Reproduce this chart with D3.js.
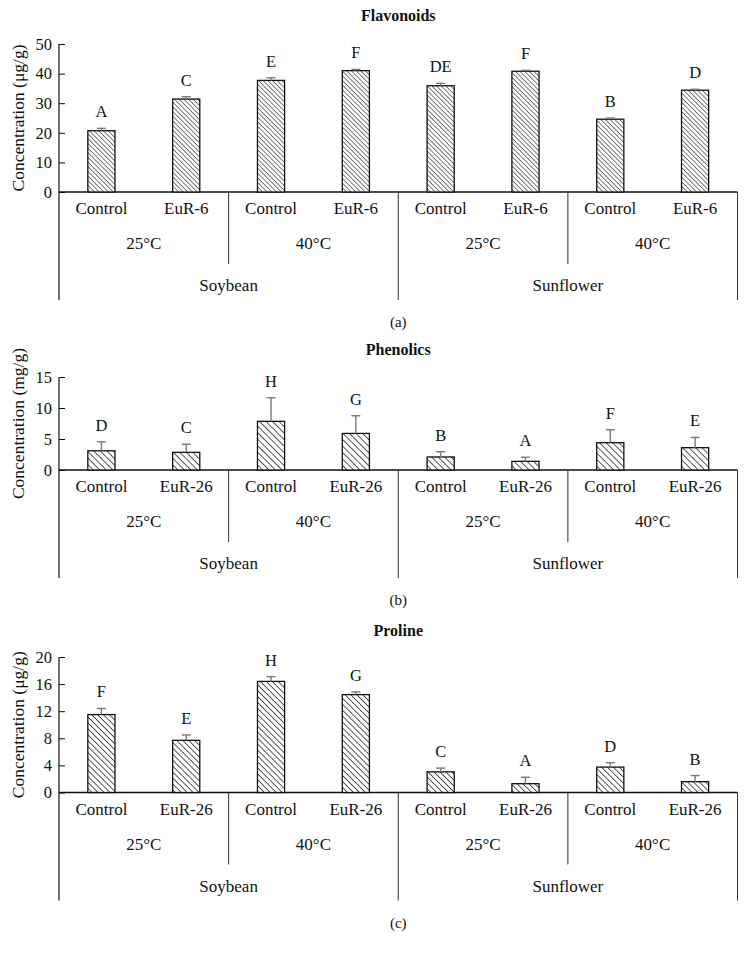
<!DOCTYPE html>
<html>
<head>
<meta charset="utf-8">
<script src="https://cdn.jsdelivr.net/npm/d3@7"></script>
<style>
  html, body { margin: 0; padding: 0; background: #fff; }
  svg { display: block; }
  text { font-family: "Liberation Serif", "DejaVu Serif", serif; fill: #111; }
</style>
</head>
<body>
<svg id="chart" width="748" height="957"></svg>
<script>
// ---------- data ----------
const crops = ["Soybean", "Sunflower"];
const temps = ["25°C", "40°C"];
const treatmentsA = ["Control", "EuR-6"];
const treatmentsBC = ["Control", "EuR-26"];

const flavonoidValues = [20.7, 31.4, 37.7, 41.0, 35.9, 40.8, 24.6, 34.4];
const flavonoidErrors = [0.8, 0.8, 0.9, 0.4, 0.8, 0.3, 0.4, 0.3];
const flavonoidLetters = ["A", "C", "E", "F", "DE", "F", "B", "D"];
const flavonoidTicks = [0, 10, 20, 30, 40, 50];

const phenolicValues = [3.1, 2.85, 7.85, 5.9, 2.1, 1.4, 4.4, 3.6];
const phenolicErrors = [1.45, 1.3, 3.8, 2.85, 0.85, 0.65, 2.1, 1.65];
const phenolicLetters = ["D", "C", "H", "G", "B", "A", "F", "E"];
const phenolicTicks = [0, 5, 10, 15];

const prolineValues = [11.5, 7.7, 16.4, 14.45, 3.05, 1.3, 3.75, 1.6];
const prolineErrors = [0.9, 0.8, 0.7, 0.4, 0.55, 0.95, 0.65, 0.9];
const prolineLetters = ["F", "E", "H", "G", "C", "A", "D", "B"];
const prolineTicks = [0, 4, 8, 12, 16, 20];

// ---------- layout ----------
const svg = d3.select("#chart");
const X0 = 59, X1 = 737.5;

const panels = [
  { title: "Flavonoids", tag: "(a)", yLabel: "Concentration (μg/g)", values: flavonoidValues, errors: flavonoidErrors,
    letters: flavonoidLetters, ticks: flavonoidTicks, treatments: treatmentsA,
    yTop: 44, yBase: 192, titleY: 21, hatch: 3.3, hatchW: 1.1 },
  { title: "Phenolics", tag: "(b)", yLabel: "Concentration (mg/g)", values: phenolicValues, errors: phenolicErrors,
    letters: phenolicLetters, ticks: phenolicTicks, treatments: treatmentsBC,
    yTop: 377, yBase: 470, titleY: 355, hatch: 4.6, hatchW: 1.4 },
  { title: "Proline", tag: "(c)", yLabel: "Concentration (μg/g)", values: prolineValues, errors: prolineErrors,
    letters: prolineLetters, ticks: prolineTicks, treatments: treatmentsBC,
    yTop: 657, yBase: 792.5, titleY: 636, hatch: 4.2, hatchW: 1.4 }
];

const defs = svg.append("defs");

panels.forEach((p, pi) => {
  const cats = [];
  crops.forEach(c => temps.forEach(t => p.treatments.forEach(tr => cats.push(c + "|" + t + "|" + tr))));

  const x = d3.scaleBand().domain(cats).range([X0, X1]).paddingInner(0.68).paddingOuter(0.34);
  const xOuter = d3.scaleBand().domain(cats).range([X0, X1]);
  const y = d3.scaleLinear().domain([0, d3.max(p.ticks)]).range([p.yBase, p.yTop]);

  const g = svg.append("g");

  const pid = "hatch" + pi;
  const pat = defs.append("pattern").attr("id", pid).attr("patternUnits", "userSpaceOnUse")
    .attr("width", p.hatch).attr("height", p.hatch).attr("patternTransform", "rotate(-45)");
  pat.append("rect").attr("width", p.hatch).attr("height", p.hatch).attr("fill", "#fff");
  pat.append("line").attr("x1", 0).attr("y1", -1).attr("x2", 0).attr("y2", p.hatch + 1)
    .attr("stroke", "#111").attr("stroke-width", p.hatchW);

  g.append("text").attr("x", (X0 + X1) / 2).attr("y", p.titleY).attr("text-anchor", "middle")
    .attr("font-weight", "bold").attr("font-size", 16).text(p.title);

  const yAxis = d3.axisLeft(y).tickValues(p.ticks).tickSizeInner(-6).tickSizeOuter(0).tickPadding(7);
  const ya = g.append("g").attr("transform", `translate(${X0},0)`).call(yAxis);
  ya.select(".domain").remove();
  ya.selectAll(".tick line").attr("stroke", "#111").attr("stroke-width", 1);
  ya.selectAll(".tick text").attr("font-size", 16.5).attr("font-family", "Liberation Serif, serif").attr("fill", "#111");

  const outerEnd = p.yBase + 108;
  const tempEnd = p.yBase + 72;

  g.append("line").attr("x1", X0).attr("x2", X0).attr("y1", p.yTop).attr("y2", outerEnd)
    .attr("stroke", "#111").attr("stroke-width", 1.2);
  g.append("line").attr("x1", X0).attr("x2", X1).attr("y1", p.yBase).attr("y2", p.yBase)
    .attr("stroke", "#111").attr("stroke-width", 1.4);
  g.append("line").attr("x1", X1).attr("x2", X1).attr("y1", p.yBase).attr("y2", outerEnd)
    .attr("stroke", "#333").attr("stroke-width", 1);

  const bw = xOuter.step();
  [2, 6].forEach(i => {
    const sx = xOuter(cats[i]);
    g.append("line").attr("x1", sx).attr("x2", sx).attr("y1", p.yBase).attr("y2", tempEnd)
      .attr("stroke", "#333").attr("stroke-width", 1);
  });
  const cx = xOuter(cats[4]);
  g.append("line").attr("x1", cx).attr("x2", cx).attr("y1", p.yBase).attr("y2", outerEnd)
    .attr("stroke", "#333").attr("stroke-width", 1);

  g.selectAll("rect.bar").data(p.values).join("rect").attr("class", "bar")
    .attr("x", (d, i) => x(cats[i])).attr("width", x.bandwidth())
    .attr("y", d => y(d)).attr("height", d => y(0) - y(d))
    .attr("fill", `url(#${pid})`).attr("stroke", "#111").attr("stroke-width", 1.3);

  const eb = g.selectAll("g.err").data(p.values).join("g").attr("class", "err");
  eb.append("line")
    .attr("x1", (d, i) => x(cats[i]) + x.bandwidth() / 2).attr("x2", (d, i) => x(cats[i]) + x.bandwidth() / 2)
    .attr("y1", d => y(d)).attr("y2", (d, i) => y(d + p.errors[i]))
    .attr("stroke", "#7a7a7a").attr("stroke-width", 1.4);
  eb.append("line")
    .attr("x1", (d, i) => x(cats[i]) + x.bandwidth() / 2 - 4.5).attr("x2", (d, i) => x(cats[i]) + x.bandwidth() / 2 + 4.5)
    .attr("y1", (d, i) => y(d + p.errors[i])).attr("y2", (d, i) => y(d + p.errors[i]))
    .attr("stroke", "#7a7a7a").attr("stroke-width", 1.4);

  g.selectAll("text.letter").data(p.letters).join("text").attr("class", "letter")
    .attr("x", (d, i) => x(cats[i]) + x.bandwidth() / 2)
    .attr("y", (d, i) => y(p.values[i] + p.errors[i]) - 11)
    .attr("text-anchor", "middle").attr("font-size", 16.5).text(d => d);

  g.selectAll("text.trt").data(cats).join("text").attr("class", "trt")
    .attr("x", d => x(d) + x.bandwidth() / 2).attr("y", p.yBase + 22)
    .attr("text-anchor", "middle").attr("font-size", 17).text(d => d.split("|")[2]);

  crops.forEach((c, ci) => temps.forEach((t, ti) => {
    const i0 = ci * 4 + ti * 2;
    const mx = xOuter(cats[i0]) + bw;
    g.append("text").attr("x", mx).attr("y", p.yBase + 57).attr("text-anchor", "middle")
      .attr("font-size", 17).text(t);
  }));

  crops.forEach((c, ci) => {
    const mx = xOuter(cats[ci * 4]) + bw * 2;
    g.append("text").attr("x", mx).attr("y", p.yBase + 99).attr("text-anchor", "middle")
      .attr("font-size", 17).text(c);
  });

  g.append("text").attr("transform", `translate(24,${(p.yTop + p.yBase) / 2}) rotate(-90)`)
    .attr("text-anchor", "middle").attr("font-size", 17.5).text(p.yLabel);

  g.append("text").attr("x", (X0 + X1) / 2).attr("y", p.yBase + 135).attr("text-anchor", "middle")
    .attr("font-size", 15).text(p.tag);
});
</script>
</body>
</html>
